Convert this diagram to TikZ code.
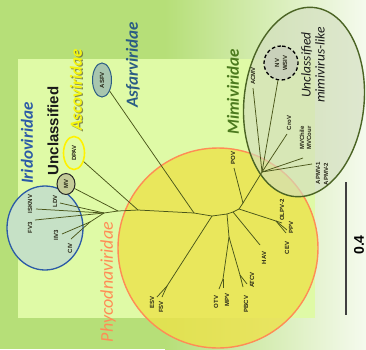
\documentclass[tikz,border=0pt]{standalone}
\usepackage{fontspec}
\setmainfont{Liberation Sans}
\newfontfamily\calib{Carlito}
\usepackage{tikz}
\usetikzlibrary{shapes.geometric}
\definecolor{bggreen}{HTML}{B6DF78}
\definecolor{bgwhite}{HTML}{F5FAEE}
\definecolor{panel}{HTML}{DFFAA6}
\definecolor{branch}{HTML}{4A561A}
\definecolor{tipink}{HTML}{262616}
\definecolor{irido}{HTML}{2C5BA6}
\definecolor{iridofill}{HTML}{C6E1C6}
\definecolor{asfar}{HTML}{2A5C84}
\definecolor{asfarfill}{HTML}{A8C6AE}
\definecolor{asco}{HTML}{F6F60C}
\definecolor{ascoshade}{HTML}{5E5E30}
\definecolor{mimi}{HTML}{4C7A1E}
\definecolor{mimiline}{HTML}{4B6424}
\definecolor{mimifill}{HTML}{D3DEC0}
\definecolor{phyco}{HTML}{FF8C55}
\definecolor{phycofill}{HTML}{EDE248}
\definecolor{mvfill}{HTML}{C4CB98}
\definecolor{nvfill}{HTML}{C9D1BA}

\begin{document}
\begin{tikzpicture}[
  x=1pt, y=-1pt,
  treeline/.style={draw=branch, line width=0.75pt},
  tiplabel/.style={rotate=90, inner sep=0pt, text=tipink, font=\bfseries\fontsize{6}{7}\selectfont},
  tipoval/.style={ellipse, rotate=90, inner sep=0pt, text=tipink, font=\bfseries\fontsize{6}{7}\selectfont},
  famlabel/.style={rotate=90, inner sep=0pt, font=\calib\bfseries\itshape\fontsize{17}{17}\selectfont}
]
\useasboundingbox (0,0) rectangle (366,349);

\fill[bggreen] (0,0) rectangle (366,349);
\shade[left color=bggreen, right color=bgwhite] (165,0) rectangle (366,349);
\fill[panel] (18,59) rectangle (315,318);

\draw[draw=phyco, line width=1.4pt, fill=phycofill, fill opacity=.78] (218,248) circle (100pt);
\draw[draw=mimiline, line width=1.4pt, fill=mimifill, fill opacity=.65, rotate around={-6:(304,102)}] (304,102) ellipse (60pt and 95pt);
\draw[draw=irido, line width=1.3pt, fill=iridofill] (45,228) ellipse (38pt and 42pt);

\node[tipoval, draw=asfar, fill=asfarfill, line width=1pt, minimum width=34pt, minimum height=19pt] (asfv) at (102,80) {ASFV};
\node[tipoval, draw=yellow, line width=1.6pt, minimum width=33pt, minimum height=21pt] (dpav) at (74,153) {DPAV};
\node[tipoval, draw=black!85, fill=mvfill, line width=1pt, minimum width=21pt, minimum height=18pt] (mv) at (66,184) {MV};
\node[circle, rotate=90, draw=black, dashed, dash pattern=on 3.5pt off 2.5pt, line width=1.3pt, fill=nvfill, minimum size=34pt, inner sep=0pt, align=center, text=tipink, font=\bfseries\fontsize{6}{8}\selectfont] (nvwsiv) at (281,63) {NV\\WSIV};

\coordinate (root) at (118,211);
\coordinate (kIri) at (104,213);
\coordinate (kIri2) at (90,222);
\coordinate (tISKNV) at (36,209);
\coordinate (tFV3) at (35,220);
\coordinate (tLDV) at (60,203);
\coordinate (tIIV3) at (62,234);
\coordinate (tCIV) at (71,239);
\coordinate (kDPAV) at (138,210);
\coordinate (kASFV) at (194,213);
\coordinate (kB) at (212,216);
\coordinate (kESV) at (167,286);
\coordinate (tESV) at (157,297);
\coordinate (tFSV) at (162,297);
\coordinate (kC) at (227,214);
\coordinate (kD) at (229,237);
\coordinate (kOTV) at (223,279);
\coordinate (tOTV) at (219,289);
\coordinate (tMPV) at (223,288);
\coordinate (kPBCV) at (240,275);
\coordinate (tPBCV) at (243,287);
\coordinate (tATCV) at (247,284);
\coordinate (kF) at (233,212);
\coordinate (tHAV) at (260,245);
\coordinate (kE) at (239,209);
\coordinate (kG) at (276,221);
\coordinate (tOLPV) at (282,223);
\coordinate (tPPV) at (287,230);
\coordinate (tCEV) at (286,233);
\coordinate (kP) at (243,203);
\coordinate (tPOV) at (234,168);
\coordinate (kMimi) at (262,172);
\coordinate (tACMV) at (253,88);
\coordinate (tCroV) at (287,134);
\coordinate (tMVC) at (303,158);
\coordinate (tAPMV) at (312,164);

\draw[treeline] (tISKNV) -- (kIri);
\draw[treeline] (tFV3) -- (kIri);
\draw[treeline] (tLDV) -- (kIri);
\draw[treeline] (tIIV3) -- (kIri2);
\draw[treeline] (tCIV) -- (kIri2);
\draw[treeline] (kIri2) -- (kIri);
\draw[treeline] (kIri) -- (root);
\draw[treeline] (mv) -- (root);
\draw[treeline] (root) -- (kDPAV);
\draw[treeline] (dpav) -- (kDPAV);
\draw[treeline] (kDPAV) -- (kASFV);
\draw[treeline] (asfv) -- (kASFV);
\draw[treeline] (kASFV) -- (kB);
\draw[treeline] (kB) -- (kESV);
\draw[treeline] (kESV) -- (tESV);
\draw[treeline] (kESV) -- (tFSV);
\draw[treeline] (kB) -- (kC);
\draw[treeline] (kC) -- (kD);
\draw[treeline] (kD) -- (kOTV);
\draw[treeline] (kOTV) -- (tOTV);
\draw[treeline] (kOTV) -- (tMPV);
\draw[treeline] (kD) -- (kPBCV);
\draw[treeline] (kPBCV) -- (tPBCV);
\draw[treeline] (kPBCV) -- (tATCV);
\draw[treeline] (kC) -- (kF);
\draw[treeline] (kF) -- (tHAV);
\draw[treeline] (kF) -- (kE);
\draw[treeline] (kE) -- (kG);
\draw[treeline] (kG) -- (tOLPV);
\draw[treeline] (kG) -- (tPPV);
\draw[treeline] (kG) -- (tCEV);
\draw[treeline] (kE) -- (kP);
\draw[treeline] (kP) -- (tPOV);
\draw[treeline] (kP) -- (kMimi);
\draw[treeline] (kMimi) -- (tACMV);
\draw[treeline] (kMimi) -- (nvwsiv);
\draw[treeline] (kMimi) -- (tCroV);
\draw[treeline] (kMimi) -- (tMVC);
\draw[treeline] (kMimi) -- (tAPMV);

\node[tiplabel] (iskv) at (30,204) {ISKNV};
\node[tiplabel] (fv3) at (30,228) {FV3};
\node[tiplabel] (ldv) at (55,201) {LDV};
\node[tiplabel] (iiv3) at (56,235) {IIV3};
\node[tiplabel] (civ) at (70,248) {CIV};
\node[tiplabel] (esv) at (152,302) {ESV};
\node[tiplabel] (fsv) at (161,307) {FSV};
\node[tiplabel] (otv) at (216,302) {OTV};
\node[tiplabel] (mpv) at (227,300) {MPV};
\node[tiplabel] (pbcv) at (246,304) {PBCV};
\node[tiplabel] (atcv) at (252,280) {ATCV};
\node[tiplabel] (hav) at (264,258) {HAV};
\node[tiplabel] (cev) at (287,248) {CEV};
\node[tiplabel] (ppv) at (291,227) {PPV};
\node[tiplabel] (olpv) at (282,210) {OLPV-2};
\node[tiplabel] (pov) at (233,158) {POV};
\node[tiplabel] (acmv) at (253,76) {ACMV};
\node[tiplabel] (crov) at (289,123) {CroV};
\node[tiplabel] (mvchile) at (302,138) {MVChile};
\node[tiplabel] (mvcour) at (309,138) {MVCour};
\node[tiplabel] (apmv1) at (318,173) {APMV-1};
\node[tiplabel] (apmv2) at (326,174) {APMV-2};

\node[famlabel, text=irido] (iridoname) at (27,143) {Iridoviridae};
\node[rotate=90, inner sep=0pt, text=black!90, font=\bfseries\fontsize{15}{15}\selectfont] (unclname) at (53,131) {Unclassified};
\node[famlabel, text=ascoshade, opacity=.7] (ascoshadow) at (77.3,91) {Ascoviridae};
\node[famlabel, text=asco] (asconame) at (76,90) {Ascoviridae};
\node[famlabel, text=asfar] (asfarname) at (133,65) {Asfarviridae};
\node[famlabel, text=mimi] (miminame) at (233,92) {Mimiviridae};
\node[rotate=90, inner sep=0pt, align=center, text=black!90, font=\calib\itshape\fontsize{13.5}{14}\selectfont] (mimilike) at (313,65) {Unclassified\\mimivirus-like};
\node[rotate=90, inner sep=0pt, text=phyco, font=\calib\itshape\fontsize{18}{18}\selectfont] (phyconame) at (108,282) {Phycodnaviridae};

\coordinate (bartop) at (346,182);
\coordinate (barbot) at (346,315);
\draw[line width=1.1pt, black!75] (bartop) -- (barbot);
\node[rotate=90, inner sep=0pt, font=\bfseries\fontsize{14}{14}\selectfont] (barlabel) at (359,245) {0.4};

\end{tikzpicture}
\end{document}
